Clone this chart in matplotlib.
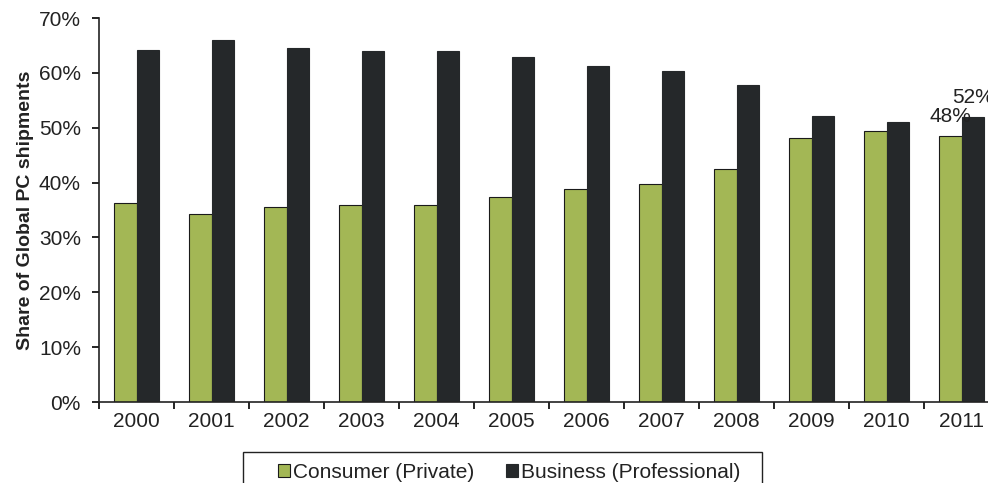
import numpy as np
import matplotlib.pyplot as plt
from matplotlib.patches import Patch, Rectangle

plt.rcParams['font.family'] = ['Liberation Sans', 'DejaVu Sans']

years = ['2000', '2001', '2002', '2003', '2004', '2005',
         '2006', '2007', '2008', '2009', '2010', '2011']
consumer = [36.2, 34.2, 35.5, 36.0, 36.0, 37.3, 38.8, 39.8, 42.5, 48.1, 49.4, 48.4]
business = [64.2, 66.0, 64.5, 64.0, 64.0, 62.8, 61.2, 60.4, 57.7, 52.2, 51.0, 51.9]

green = '#a3b755'
dark = '#25282a'
txt = '#222222'

W, H = 988, 483
fig = plt.figure(figsize=(W / 100, H / 100), dpi=100)
fig.patch.set_facecolor('white')
ax = fig.add_axes([99 / W, (H - 402) / H, 900 / W, (402 - 18) / H])

x = np.arange(len(years))
bw = 0.3
ax.bar(x - bw / 2, consumer, bw, color=green, edgecolor='#1a1a1a', linewidth=0.8)
ax.bar(x + bw / 2, business, bw, color=dark, edgecolor=dark, linewidth=0.8)

ax.set_xlim(-0.5, len(years) - 0.5)
ax.set_ylim(0, 70)
ax.set_yticks(np.arange(0, 71, 10))
ax.set_yticklabels([f'{v}%' for v in range(0, 71, 10)], fontsize=15, color=txt)
ax.set_xticks(x)
ax.set_xticklabels(years, fontsize=15, color=txt)
ax.set_xticks(np.arange(-0.5, len(years)), minor=True)
ax.tick_params(axis='x', which='major', length=0, pad=7)
ax.tick_params(axis='x', which='minor', length=5, width=1.2, direction='out')
ax.tick_params(axis='y', length=5, width=1.2, direction='out', pad=8)

for s in ['top', 'right']:
    ax.spines[s].set_visible(False)
for s in ['left', 'bottom']:
    ax.spines[s].set_linewidth(1.2)
    ax.spines[s].set_color(txt)

ax.set_ylabel('Share of Global PC shipments', fontsize=14, fontweight='bold', color=txt)
ax.yaxis.set_label_coords(-0.072, 0.5)

# labels on the last year
ax.text(x[-1] - bw / 2, consumer[-1] + 2.6, f'{consumer[-1]:.0f}%', ha='center', va='baseline',
        fontsize=15, color=txt)
ax.text(x[-1] + bw / 2, business[-1] + 2.6, f'{business[-1]:.0f}%', ha='center', va='baseline',
        fontsize=15, color=txt)

# legend: frame drawn separately (runs off the bottom edge)
fig.patches.append(Rectangle((243 / W, -0.05), (762 - 243) / W, 0.05 + (H - 452) / H,
                             transform=fig.transFigure, fill=False, edgecolor=txt, linewidth=1.0))
handles = [Patch(facecolor=green, edgecolor='#1a1a1a', linewidth=0.8, label='Consumer (Private)'),
           Patch(facecolor=dark, edgecolor=dark, linewidth=0.8, label='Business (Professional)')]
leg = fig.legend(handles=handles, loc='upper left', bbox_to_anchor=(278 / W, 1 - 463 / H),
                 ncol=2, fontsize=15, frameon=False,
                 handlelength=0.58, handleheight=0.58, handletextpad=0.15, columnspacing=1.5,
                 borderpad=0, borderaxespad=0)
for t in leg.get_texts():
    t.set_color(txt)

fig.savefig('out.png', dpi=100, facecolor='white')
